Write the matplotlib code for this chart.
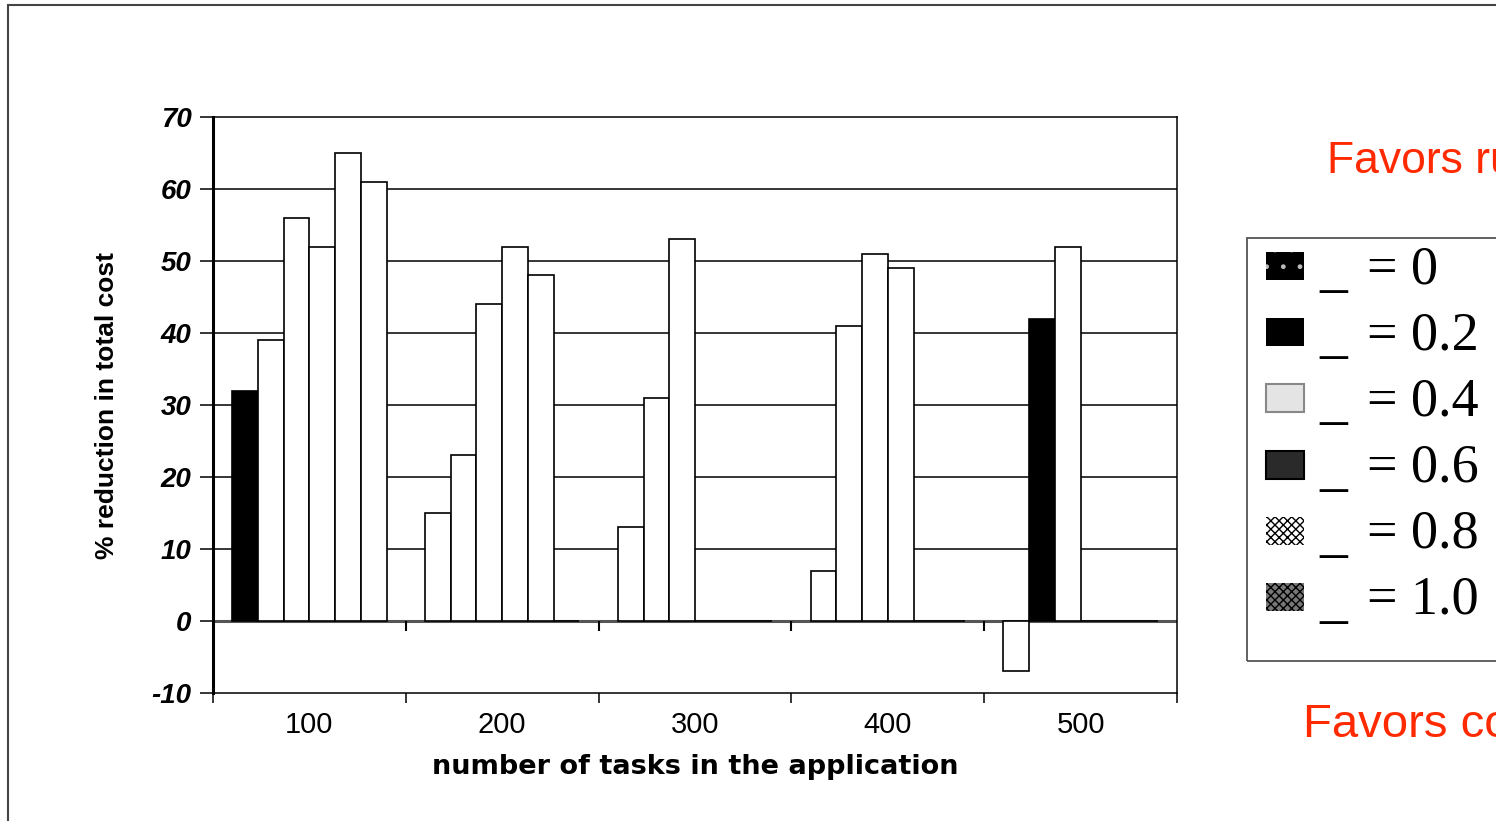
import numpy as np
import matplotlib.pyplot as plt
from matplotlib.patches import Rectangle

plt.rcParams['axes.unicode_minus'] = False

# dati
tasks = ['100', '200', '300', '400', '500']
alpha_labels = ['0', '0.2', '0.4', '0.6', '0.8', '1.0']
red_0 = [32, 15, 13, 7, -7]
red_02 = [39, 23, 31, 41, 42]
red_04 = [56, 44, 53, 51, 52]
red_06 = [52, 52, 0, 49, 0]
red_08 = [65, 48, 0, 0, 0]
red_10 = [61, 0, 0, 0, 0]
series = [red_0, red_02, red_04, red_06, red_08, red_10]

# barre piene (nere) nel grafico: (serie, gruppo)
black_bars = [(0, 0), (1, 4)]

W, H = 1496, 821
fig = plt.figure(figsize=(W / 100, H / 100), dpi=100)


def fx(px):
    return px / W


def fy(py):
    return 1 - py / H


ax = fig.add_axes([fx(213), fy(693), fx(1177) - fx(213), fy(117) - fy(693)])

bw = 0.1333
x = np.arange(len(tasks))
for i, vals in enumerate(series):
    for g in range(len(tasks)):
        col = 'black' if (i, g) in black_bars else 'white'
        ax.bar(x[g] + (i - 2.5) * bw, vals[g], width=bw, color=col,
               edgecolor='black', linewidth=1.2, zorder=3)

ax.set_xlim(-0.5, 4.5)
ax.set_ylim(-10, 70)
ax.set_yticks(range(-10, 71, 10))
for t in range(10, 70, 10):
    ax.axhline(t, color='black', lw=1.1, zorder=1)
ax.axhline(0, color='#555555', lw=2.2, zorder=2)
# tacche sulla linea dello zero
ax.vlines(np.arange(0.5, 4.0, 1.0), -1.4, 0, color='black', lw=1.5, zorder=4)

for s in ['top', 'right', 'bottom']:
    ax.spines[s].set_linewidth(1.1)
ax.spines['left'].set_linewidth(2.2)

ax.tick_params(axis='y', direction='out', length=9.5, width=1.1, pad=6)
for lab in ax.get_yticklabels():
    lab.set_fontfamily('Liberation Sans')
    lab.set_fontweight('bold')
    lab.set_fontstyle('italic')
    lab.set_fontsize(20)

ax.set_xticks(np.arange(-0.5, 5.0, 1.0))
ax.set_xticklabels([])
ax.tick_params(axis='x', which='major', direction='out', length=7.5, width=1.1)
ax.set_xticks(x, minor=True)
ax.set_xticklabels(tasks, minor=True, fontsize=21, family='Liberation Sans')
ax.tick_params(axis='x', which='minor', length=0, pad=13)

fig.text(fx(107), fy(405), '% reduction in total cost', rotation=90,
         ha='center', va='center', fontsize=19, fontweight='bold',
         family='Liberation Sans')
fig.text(fx(695), fy(767), 'number of tasks in the application',
         ha='center', va='center', fontsize=19.5, fontweight='bold',
         family='DejaVu Sans')

# cornice esterna
fig.add_artist(Rectangle((fx(8), fy(900)), fx(1600), fy(5) - fy(900),
                         transform=fig.transFigure, fill=False,
                         edgecolor='#444444', lw=1.5))

# legenda disegnata a mano
fig.add_artist(Rectangle((fx(1247), fy(661)), fx(400), fy(238) - fy(661),
                         transform=fig.transFigure, fill=False,
                         edgecolor='#555555', lw=1.3))
faces = ['black', 'black', '#e4e4e4', '#2a2a2a', 'white', '#777777']
edges = ['#bbbbbb', 'black', '#888888', 'black', 'black', 'black']
hatches = ['.', None, None, None, 'xxxx', 'xxxx']
widths = [0, 0, 1.5, 1.5, 0, 0]
for k, lab in enumerate(alpha_labels):
    cy = 266 + k * 66.2
    fig.add_artist(Rectangle((fx(1266), fy(cy + 14)), fx(38), fy(cy - 14) - fy(cy + 14),
                             transform=fig.transFigure, facecolor=faces[k],
                             edgecolor=edges[k], hatch=hatches[k], lw=widths[k]))
    fig.text(fx(1319), fy(cy + 20), '_', fontsize=40, family='Liberation Serif',
             ha='left', va='baseline')
    fig.text(fx(1367), fy(cy + 17), '= ' + lab, fontsize=39,
             family='Liberation Serif', ha='left', va='baseline')

fig.text(fx(1327), fy(173), 'Favors runtime', fontsize=32, color='#ff2a00',
         family='Liberation Sans', ha='left', va='baseline')
fig.text(fx(1303), fy(737), 'Favors cost', fontsize=34, color='#ff2a00',
         family='Liberation Sans', ha='left', va='baseline')

fig.savefig('out.png', dpi=100)
